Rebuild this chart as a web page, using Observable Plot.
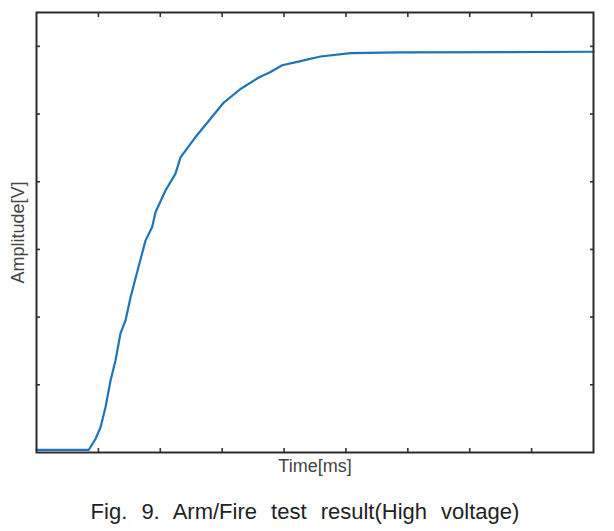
<!DOCTYPE html>
<html>
<head>
<meta charset="utf-8">
<script src="https://cdn.jsdelivr.net/npm/d3@7"></script>
<script src="https://cdn.jsdelivr.net/npm/@observablehq/plot@0.6"></script>
<style>
  body { margin: 0; background: #fff; }
  #chart { width: 614px; height: 480px; }
  #caption { font-family: "Liberation Sans", Arial, sans-serif; font-size: 22px; line-height: 26px; color: #222; text-align: center; width: 610px; margin-top: 19px; word-spacing: 8px; }
</style>
</head>
<body>
<div id="chart"></div>
<div id="caption">Fig. 9. Arm/Fire test result(High voltage)</div>
<script>
const timeMs = [0, 0.845, 0.953, 1.034, 1.115, 1.196, 1.276, 1.357, 1.438, 1.519, 1.648, 1.761, 1.869, 1.923, 2.084, 2.246, 2.327, 2.569, 2.811, 3.026, 3.296, 3.592, 3.781, 3.970, 4.212, 4.589, 5.073, 5.881, 9.0];
const amplitude = [0.04, 0.04, 0.20, 0.37, 0.67, 1.06, 1.36, 1.76, 1.95, 2.29, 2.74, 3.13, 3.33, 3.55, 3.87, 4.12, 4.36, 4.66, 4.93, 5.17, 5.37, 5.54, 5.62, 5.72, 5.77, 5.85, 5.90, 5.91, 5.92];
const xTicks = [1, 2, 3, 4, 5, 6, 7, 8];
const yTicks = [1, 2, 3, 4, 5, 6];
const xLabel = "Time[ms]";
const yLabel = "Amplitude[V]";

const data = timeMs.map((t, i) => ({t, a: amplitude[i]}));

const tickStyle = {tickSize: -4, tickFormat: () => "", stroke: "#333", strokeWidth: 1.6, label: null};

const chart = Plot.plot({
  width: 614,
  height: 480,
  marginTop: 12,
  marginLeft: 36,
  marginRight: 21,
  marginBottom: 28,
  style: {fontFamily: "Liberation Sans, Arial, sans-serif", background: "#fff", display: "block"},
  x: {domain: [0, 9]},
  y: {domain: [0, 6.5]},
  marks: [
    Plot.axisX({anchor: "bottom", ticks: xTicks, ...tickStyle}),
    Plot.axisX({anchor: "top", ticks: xTicks, ...tickStyle}),
    Plot.axisY({anchor: "left", ticks: yTicks, ...tickStyle}),
    Plot.axisY({anchor: "right", ticks: yTicks, ...tickStyle}),
    Plot.line(data, {x: "t", y: "a", stroke: "#1f74b7", strokeWidth: 2.2}),
    Plot.frame({stroke: "#2b2b2b", strokeWidth: 2}),
    Plot.text([xLabel], {frameAnchor: "bottom", textAnchor: "middle", lineAnchor: "middle", dy: 14, fontSize: 18, fill: "#444"}),
    Plot.text([yLabel], {frameAnchor: "left", textAnchor: "middle", lineAnchor: "middle", dx: -18, rotate: -90, fontSize: 18, fill: "#444"})
  ]
});
document.getElementById("chart").appendChild(chart);
</script>
</body>
</html>
